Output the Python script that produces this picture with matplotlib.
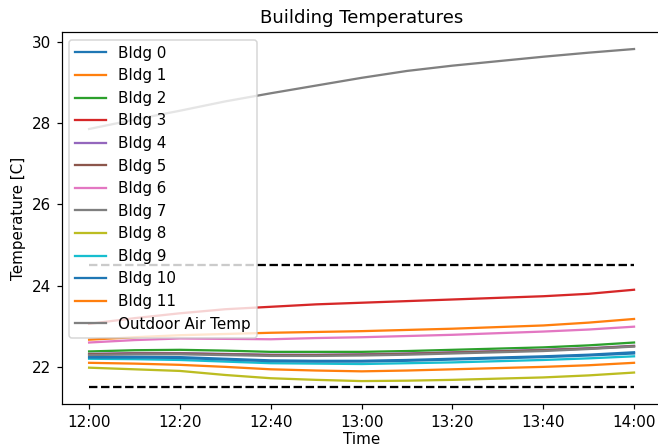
import matplotlib
matplotlib.use("Agg")
import matplotlib.pyplot as plt
import matplotlib.dates as mdates
import pandas as pd

times = pd.date_range("2020-01-01 12:00", "2020-01-01 14:00", freq="10min")

bldg_names = [f"Bldg {i}" for i in range(12)]
bldg_values = [
    [22.25, 22.25, 22.24, 22.20, 22.16, 22.15, 22.15, 22.17, 22.20, 22.23, 22.26, 22.30, 22.36],  # 0
    [22.67, 22.73, 22.78, 22.81, 22.84, 22.86, 22.88, 22.91, 22.94, 22.98, 23.02, 23.09, 23.18],  # 1
    [22.38, 22.41, 22.42, 22.40, 22.37, 22.37, 22.37, 22.39, 22.42, 22.45, 22.48, 22.53, 22.60],  # 2
    [23.06, 23.20, 23.32, 23.42, 23.48, 23.54, 23.58, 23.62, 23.66, 23.70, 23.74, 23.80, 23.90],  # 3
    [22.32, 22.34, 22.34, 22.32, 22.30, 22.30, 22.31, 22.33, 22.36, 22.39, 22.42, 22.46, 22.52],  # 4
    [22.31, 22.33, 22.33, 22.31, 22.29, 22.29, 22.30, 22.32, 22.35, 22.38, 22.41, 22.45, 22.51],  # 5
    [22.60, 22.66, 22.70, 22.69, 22.68, 22.71, 22.73, 22.76, 22.79, 22.83, 22.87, 22.92, 22.99],  # 6
    [22.29, 22.31, 22.31, 22.29, 22.27, 22.27, 22.28, 22.30, 22.33, 22.36, 22.39, 22.44, 22.50],  # 7
    [21.98, 21.94, 21.90, 21.80, 21.72, 21.68, 21.65, 21.66, 21.68, 21.71, 21.74, 21.79, 21.86],  # 8
    [22.20, 22.19, 22.17, 22.13, 22.09, 22.08, 22.07, 22.09, 22.11, 22.14, 22.17, 22.21, 22.26],  # 9
    [22.23, 22.23, 22.22, 22.18, 22.14, 22.13, 22.13, 22.15, 22.18, 22.21, 22.24, 22.28, 22.33],  # 10
    [22.10, 22.08, 22.05, 22.00, 21.94, 21.91, 21.89, 21.91, 21.94, 21.97, 22.00, 22.04, 22.10],  # 11
]
outdoor_values = [27.86, 28.09, 28.31, 28.54, 28.74, 28.93, 29.12, 29.29, 29.42, 29.53, 29.64, 29.74, 29.83]
lower_limit = 21.5
upper_limit = 24.5

DPI = 109
fig, ax = plt.subplots(figsize=(658 / DPI, 446 / DPI), dpi=DPI)
fig.subplots_adjust(left=0.094, right=1.005, top=0.928, bottom=0.094)

for name, vals in zip(bldg_names, bldg_values):
    ax.plot(times, vals, label=name)
ax.plot(times, outdoor_values, color="gray", label="Outdoor Air Temp")
ax.plot([times[0], times[-1]], [lower_limit, lower_limit], "k--")
ax.plot([times[0], times[-1]], [upper_limit, upper_limit], "k--")

ax.xaxis.set_major_locator(mdates.MinuteLocator(byminute=[0, 20, 40]))
ax.xaxis.set_major_formatter(mdates.DateFormatter("%H:%M"))
ax.set_xlabel("Time", labelpad=1.5)
ax.set_ylabel("Temperature [C]")
ax.set_title("Building Temperatures")
ax.legend(loc="upper left")

fig.savefig("out.png", dpi=DPI)
